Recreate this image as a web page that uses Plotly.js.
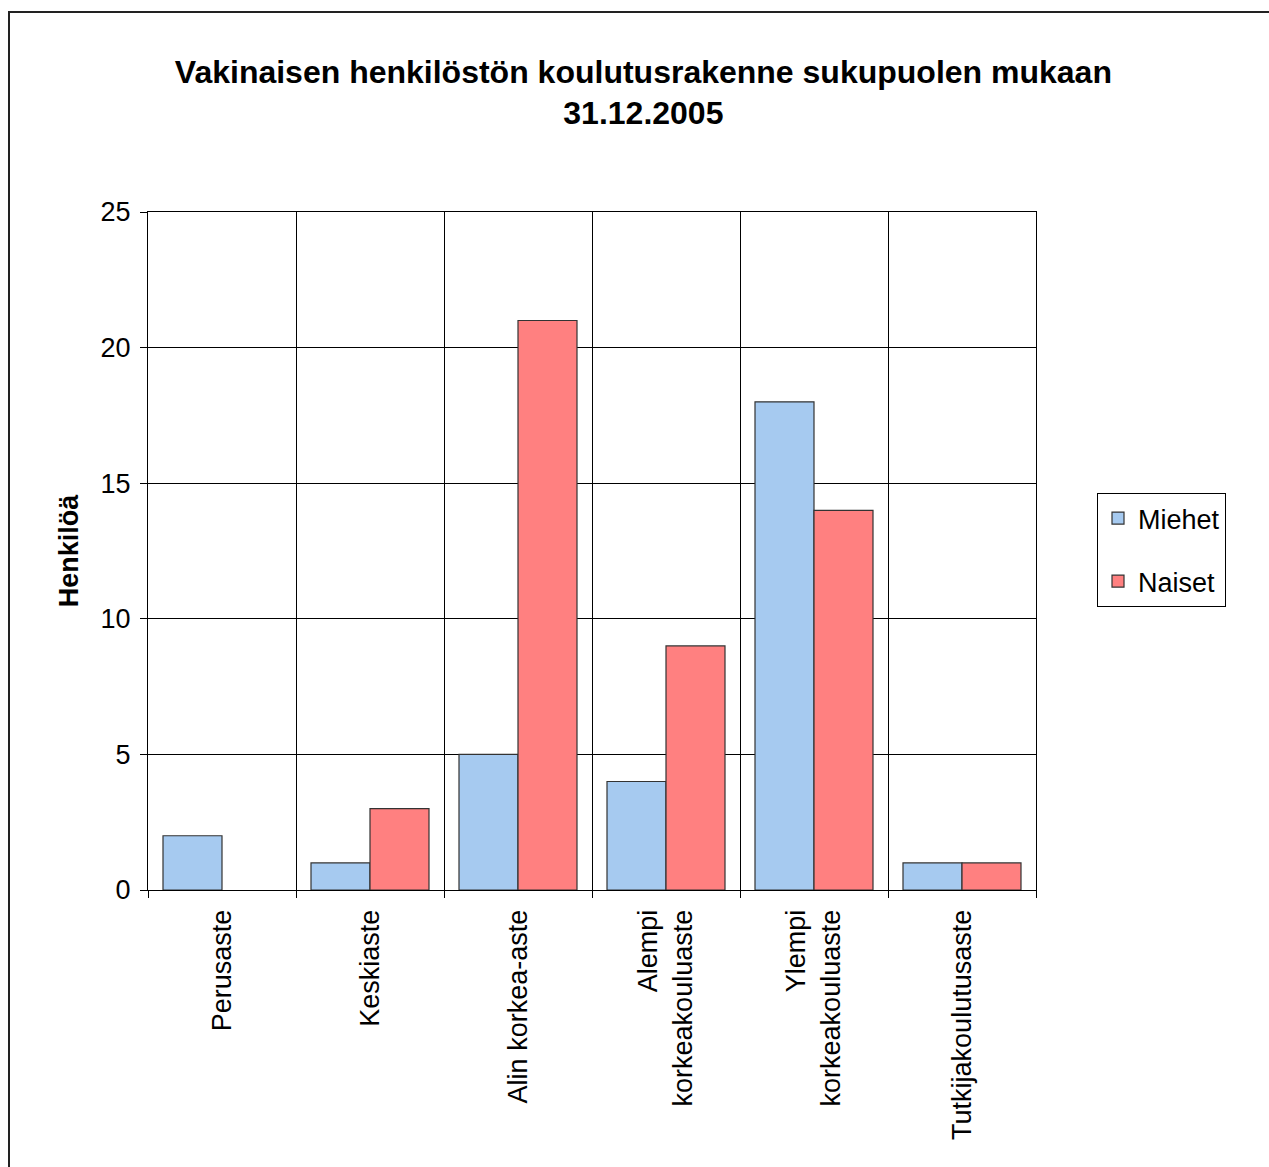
<!DOCTYPE html>
<html>
<head>
<meta charset="utf-8">
<script src="https://cdn.plot.ly/plotly-3.0.1.min.js"></script>
<style>
html,body{margin:0;padding:0;background:#fff;}
#chart{width:1269px;height:1167px;}
</style>
</head>
<body>
<div id="chart"></div>
<script>
var categories = ["Perusaste", "Keskiaste", "Alin korkea-aste", "Alempi<br>korkeakouluaste", "Ylempi<br>korkeakouluaste", "Tutkijakoulutusaste"];
var miehet = [2, 1, 5, 4, 18, 1];
var naiset = [0, 3, 21, 9, 14, 1];
var seriesNames = ["Miehet", "Naiset"];
var seriesColors = ["#A6CAF0", "#FF8080"];
var titleText = "Vakinaisen henkilöstön koulutusrakenne sukupuolen mukaan<br>31.12.2005";
var yTitle = "Henkilöä";

var font = "Liberation Sans, Arial, sans-serif";
var edge = "#333333";
function lw(vals){ return vals.map(function(v){ return v > 0 ? 1.2 : 0; }); }

var traces = [
  {type: "bar", name: seriesNames[0], x: categories, y: miehet, showlegend: false,
   marker: {color: seriesColors[0], line: {color: edge, width: lw(miehet)}}},
  {type: "bar", name: seriesNames[1], x: categories, y: naiset, showlegend: false,
   marker: {color: seriesColors[1], line: {color: edge, width: lw(naiset)}}},
  // legend entries (drawn on a hidden overlay axis so they do not affect grouping)
  {type: "bar", name: seriesNames[0], x: [categories[0]], y: [null], xaxis: "x2", yaxis: "y2",
   legendgroup: "a", hoverinfo: "skip",
   marker: {color: seriesColors[0], line: {color: edge, width: 1.2}}},
  {type: "bar", name: seriesNames[1], x: [categories[0]], y: [null], xaxis: "x2", yaxis: "y2",
   legendgroup: "b", hoverinfo: "skip",
   marker: {color: seriesColors[1], line: {color: edge, width: 1.2}}}
];

var layout = {
  width: 1269, height: 1167,
  paper_bgcolor: "#fff", plot_bgcolor: "#fff",
  margin: {l: 148, r: 233, t: 212, b: 277, autoexpand: false},
  font: {family: font, color: "#000", size: 27},
  title: {text: titleText, x: 0.507, xanchor: "center", y: 0.929, yanchor: "top",
          font: {family: font, size: 32, color: "#000", weight: "bold"}},
  barmode: "group", bargap: 0.2027, bargroupgap: 0,
  showlegend: true,
  legend: {x: 1.0687, xanchor: "left", y: 0.5015, yanchor: "middle",
           bordercolor: "#000", borderwidth: 1, bgcolor: "#fff",
           font: {family: font, size: 27, color: "#000"},
           tracegroupgap: 25, itemwidth: 30},
  xaxis: {type: "category", tickson: "boundaries", showgrid: true, gridcolor: "#000", gridwidth: 1,
          ticks: "outside", ticklen: 7, tickcolor: "#000", tickangle: -90, ticklabelstandoff: 8,
          showline: true, linecolor: "#000", linewidth: 1, mirror: true,
          tickfont: {family: font, size: 27, color: "#000"}, fixedrange: true},
  yaxis: {range: [0, 25], dtick: 5, tick0: 0, showgrid: true, gridcolor: "#000", gridwidth: 1,
          ticks: "outside", ticklen: 7, tickcolor: "#000", ticklabelstandoff: 4,
          showline: true, linecolor: "#000", linewidth: 1, mirror: true, zeroline: false,
          tickfont: {family: font, size: 27, color: "#000"},
          title: {text: yTitle, standoff: 14, font: {family: font, size: 27, color: "#000", weight: "bold"}}},
  xaxis2: {type: "category", overlaying: "x", visible: false, fixedrange: true},
  yaxis2: {overlaying: "y", visible: false, range: [0, 25], fixedrange: true},
  shapes: [
    {type: "path", xref: "paper", yref: "paper",
     path: "M " + ((9-148)/888) + " " + (1 - (1167-212+5)/678) + " L " + ((9-148)/888) + " " + (1 + (212-12)/678) + " L " + ((1300-148)/888) + " " + (1 + (212-12)/678),
     line: {color: "#222", width: 2}}
  ]
};

Plotly.newPlot("chart", traces, layout, {displayModeBar: false, staticPlot: true});
</script>
</body>
</html>
